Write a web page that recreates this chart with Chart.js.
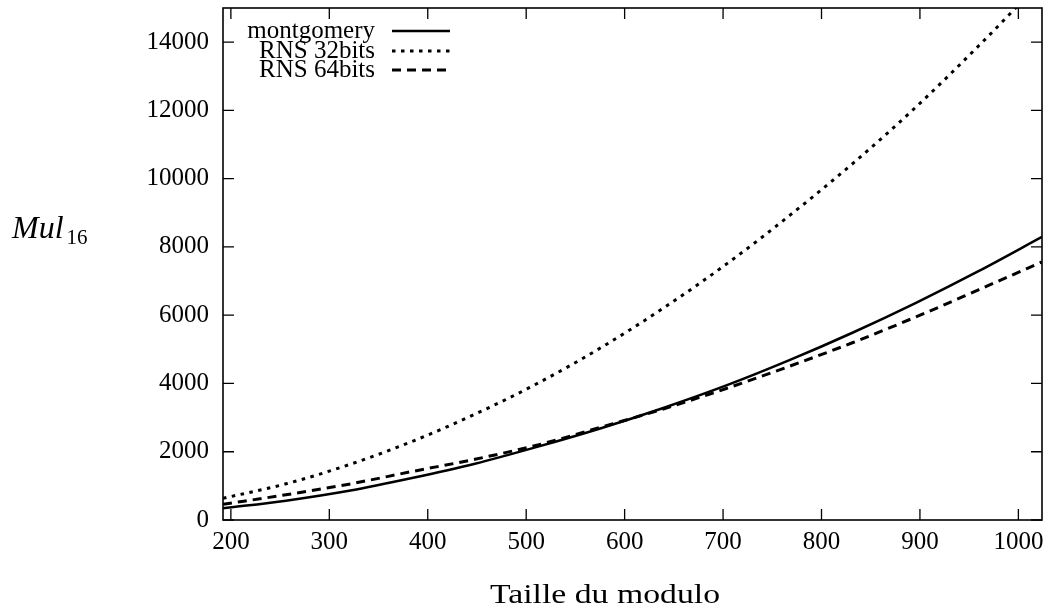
<!DOCTYPE html>
<html>
<head>
<meta charset="utf-8">
<script src="https://cdn.jsdelivr.net/npm/chart.js@4/dist/chart.umd.min.js"></script>
<style>
  html, body { margin: 0; padding: 0; background: #ffffff; }
  #wrap { width: 1052px; height: 611px; position: relative; }
</style>
</head>
<body>
<div id="wrap"><canvas id="c" width="1052" height="611"></canvas></div>
<script>
// ---- data ----
const moduleSizes = [192, 256, 320, 384, 448, 512, 576, 640, 704, 768, 832, 896, 960, 1024];
const montgomery  = [342, 567, 857, 1230, 1650, 2150, 2690, 3290, 3950, 4690, 5493, 6362, 7296, 8293];
const rns32bits   = [635, 1060, 1620, 2300, 3100, 4010, 5050, 6220, 7510, 8930, 10450, 12100, 13900, 15800];
const rns64bits   = [459, 740, 1050, 1420, 1780, 2200, 2720, 3260, 3860, 4510, 5200, 5950, 6750, 7561];
const seriesNames = ['montgomery', 'RNS 32bits', 'RNS 64bits'];
const xTickValues = [200, 300, 400, 500, 600, 700, 800, 900, 1000];
const yTickValues = [0, 2000, 4000, 6000, 8000, 10000, 12000, 14000];
const xTitle = 'Taille du modulo';
const yTitleMain = 'Mul';
const yTitleSub = '16';

const toPoints = arr => arr.map((v, i) => ({ x: moduleSizes[i], y: v }));
const SERIF = '"Liberation Serif", "Times New Roman", serif';

const styles = [
  { dash: [], width: 2.5 },
  { dash: [3.5, 5.5], width: 3 },
  { dash: [9, 6], width: 3 }
];

const datasets = [montgomery, rns32bits, rns64bits].map((arr, i) => ({
  label: seriesNames[i],
  data: toPoints(arr),
  borderColor: '#000',
  backgroundColor: '#000',
  borderWidth: styles[i].width,
  borderDash: styles[i].dash,
  pointRadius: 0,
  fill: false,
  cubicInterpolationMode: 'monotone',
  borderCapStyle: 'butt'
}));

const framePlugin = {
  id: 'frame',
  afterDraw(chart) {
    const ctx = chart.ctx;
    const a = chart.chartArea;
    const xs = chart.scales.x, ys = chart.scales.y;
    ctx.save();
    ctx.strokeStyle = '#000';
    ctx.lineWidth = 1.6;
    ctx.strokeRect(a.left, a.top, a.right - a.left, a.bottom - a.top);
    const tl = 11;
    ctx.lineWidth = 1.3;
    ctx.beginPath();
    xTickValues.forEach(v => {
      const px = xs.getPixelForValue(v);
      ctx.moveTo(px, a.bottom); ctx.lineTo(px, a.bottom - tl);
      ctx.moveTo(px, a.top); ctx.lineTo(px, a.top + tl);
    });
    yTickValues.forEach(v => {
      const py = ys.getPixelForValue(v);
      ctx.moveTo(a.left, py); ctx.lineTo(a.left + tl, py);
      ctx.moveTo(a.right, py); ctx.lineTo(a.right - tl, py);
    });
    ctx.stroke();

    // legend
    const rowsY = [31, 51, 70];
    ctx.fillStyle = '#000';
    ctx.font = '25px ' + SERIF;
    ctx.textAlign = 'right';
    ctx.textBaseline = 'alphabetic';
    chart.data.datasets.forEach((ds, i) => {
      const y = rowsY[i];
      ctx.fillText(ds.label, 375, y + 7);
      ctx.save();
      ctx.lineWidth = ds.borderWidth;
      ctx.setLineDash(ds.borderDash);
      ctx.lineCap = 'butt';
      ctx.beginPath();
      ctx.moveTo(392, y); ctx.lineTo(450, y);
      ctx.stroke();
      ctx.restore();
    });

    // x title
    ctx.save();
    ctx.font = '27px ' + SERIF;
    ctx.textAlign = 'center';
    const w = ctx.measureText(xTitle).width;
    const sx = 230 / w;
    ctx.translate(605, 603);
    ctx.scale(sx, 1);
    ctx.fillText(xTitle, 0, 0);
    ctx.restore();

    // y title
    ctx.save();
    ctx.textAlign = 'left';
    ctx.font = 'italic 32px ' + SERIF;
    ctx.fillText(yTitleMain, 12, 238);
    const mw = ctx.measureText(yTitleMain).width;
    ctx.font = '21px ' + SERIF;
    ctx.fillText(yTitleSub, 12 + mw + 3, 244);
    ctx.restore();
    ctx.restore();
  }
};

new Chart(document.getElementById('c'), {
  type: 'line',
  data: { datasets },
  plugins: [framePlugin],
  options: {
    responsive: false,
    animation: false,
    devicePixelRatio: 1,
    layout: { padding: { left: 0, top: 8, right: 10, bottom: 0 } },
    plugins: { legend: { display: false }, tooltip: { enabled: false } },
    scales: {
      x: {
        type: 'linear',
        min: 192, max: 1024,
        grid: { display: false, drawTicks: false },
        border: { display: false },
        afterBuildTicks: s => { s.ticks = xTickValues.map(v => ({ value: v })); },
        afterFit: s => { s.height = 91; s.paddingLeft = 0; s.paddingRight = 0; },
        ticks: { color: '#000', font: { family: SERIF, size: 25 }, padding: 7, maxRotation: 0, autoSkip: false,
                 callback: v => String(v) }
      },
      y: {
        type: 'linear',
        min: 0, max: 15000,
        grid: { display: false, drawTicks: false },
        border: { display: false },
        afterBuildTicks: s => { s.ticks = yTickValues.map(v => ({ value: v })); },
        afterFit: s => { s.width = 223; s.paddingTop = 0; s.paddingBottom = 0; },
        ticks: { color: '#000', font: { family: SERIF, size: 25 }, padding: 14, autoSkip: false,
                 callback: v => String(v) }
      }
    }
  }
});
</script>
</body>
</html>
